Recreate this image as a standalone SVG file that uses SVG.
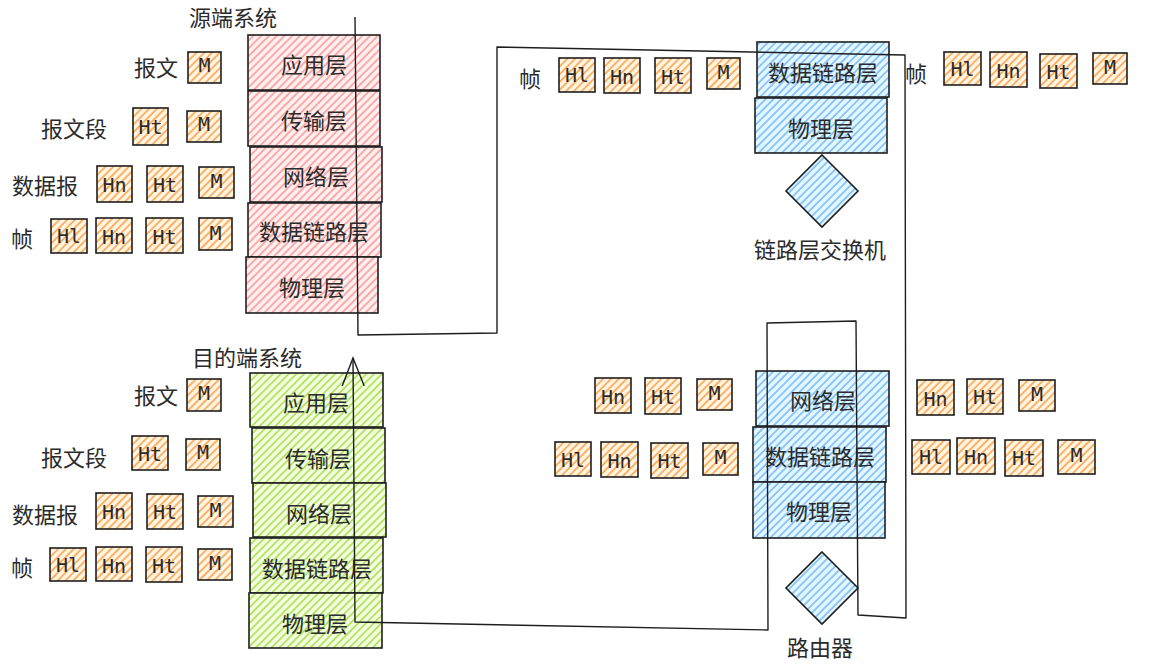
<svg xmlns="http://www.w3.org/2000/svg" width="1150" height="666" viewBox="0 0 1150 666">
<style>
.t{font-family:"Noto Sans CJK SC","Noto Sans",sans-serif;font-size:22px;fill:#2b2b2b;text-anchor:middle;dominant-baseline:central}
.pt{font-family:"DejaVu Sans Mono","Liberation Mono",monospace;font-size:20px;fill:#2b2b2b;text-anchor:middle;dominant-baseline:central}
.pk{fill:url(#hO);stroke:#1e1e1e;stroke-width:1.6}
.lr{fill:url(#hR);stroke:#1e1e1e;stroke-width:1.6}
.lg{fill:url(#hG);stroke:#1e1e1e;stroke-width:1.6}
.lb{fill:url(#hB);stroke:#1e1e1e;stroke-width:1.6}
.c{fill:none;stroke:#1e1e1e;stroke-width:1.4;stroke-linejoin:round}
</style>
<defs>
<pattern id="hO" patternUnits="userSpaceOnUse" width="5.5" height="5.5" patternTransform="rotate(45)"><rect width="5.5" height="5.5" fill="#fff4e6"/><line x1="1" y1="0" x2="1" y2="5.5" stroke="#ffa94d" stroke-width="1.7"/></pattern>
<pattern id="hR" patternUnits="userSpaceOnUse" width="5.5" height="5.5" patternTransform="rotate(45)"><rect width="5.5" height="5.5" fill="#fff0f0"/><line x1="1" y1="0" x2="1" y2="5.5" stroke="#ff9a9a" stroke-width="1.6"/></pattern>
<pattern id="hG" patternUnits="userSpaceOnUse" width="5.5" height="5.5" patternTransform="rotate(45)"><rect width="5.5" height="5.5" fill="#f4fce3"/><line x1="1" y1="0" x2="1" y2="5.5" stroke="#a9e34b" stroke-width="1.6"/></pattern>
<pattern id="hB" patternUnits="userSpaceOnUse" width="5.5" height="5.5" patternTransform="rotate(45)"><rect width="5.5" height="5.5" fill="#e7f5ff"/><line x1="1" y1="0" x2="1" y2="5.5" stroke="#74c0fc" stroke-width="1.6"/></pattern>
<marker id="arr" markerWidth="30" markerHeight="30" refX="0" refY="0" viewBox="-28 -14 30 28" orient="auto" markerUnits="userSpaceOnUse"><path d="M-28,-11 L0,0 L-28,11" fill="none" stroke="#1e1e1e" stroke-width="1.4"/></marker>
</defs>
<rect width="1150" height="666" fill="#ffffff"/>

<!-- source system -->
<g id="src-title"><text class="t" x="233" y="16">源端系统</text></g>
<g id="src-app"><rect class="lr" x="248" y="35" width="132" height="55"/><text class="t" x="314" y="63">应用层</text></g>
<g id="src-trans"><rect class="lr" x="248" y="91" width="132" height="55"/><text class="t" x="314" y="119">传输层</text></g>
<g id="src-net"><rect class="lr" x="250" y="147" width="132" height="55"/><text class="t" x="316" y="175">网络层</text></g>
<g id="src-link"><rect class="lr" x="248" y="203" width="133" height="54"/><text class="t" x="314" y="230">数据链路层</text></g>
<g id="src-phy"><rect class="lr" x="246" y="257" width="132" height="56"/><text class="t" x="312" y="286">物理层</text></g>

<g id="src-lbl-msg"><text class="t" x="156" y="66">报文</text></g>
<g id="src-lbl-seg"><text class="t" x="74" y="127">报文段</text></g>
<g id="src-lbl-dg"><text class="t" x="45" y="184">数据报</text></g>
<g id="src-lbl-fr"><text class="t" x="22" y="237">帧</text></g>

<g id="src-msg-M" transform="translate(188,52)"><rect class="pk" width="33" height="31"/><text class="pt" x="16.5" y="13">M</text></g>
<g id="src-seg-Ht" transform="translate(133,108)"><rect class="pk" width="35" height="37"/><text class="pt" x="17.5" y="19">Ht</text></g>
<g id="src-seg-M" transform="translate(187,111)"><rect class="pk" width="34" height="31"/><text class="pt" x="17" y="13">M</text></g>
<g id="src-dg-Hn" transform="translate(97,166)"><rect class="pk" width="35" height="36"/><text class="pt" x="17.5" y="19">Hn</text></g>
<g id="src-dg-Ht" transform="translate(147,166)"><rect class="pk" width="36" height="36"/><text class="pt" x="18" y="19">Ht</text></g>
<g id="src-dg-M" transform="translate(199,167)"><rect class="pk" width="35" height="31"/><text class="pt" x="17.5" y="14">M</text></g>
<g id="src-fr-Hl" transform="translate(51,219)"><rect class="pk" width="36" height="34"/><text class="pt" x="18" y="17">Hl</text></g>
<g id="src-fr-Hn" transform="translate(96,218)"><rect class="pk" width="36" height="35"/><text class="pt" x="18" y="19">Hn</text></g>
<g id="src-fr-Ht" transform="translate(146,218)"><rect class="pk" width="37" height="35"/><text class="pt" x="18.5" y="19">Ht</text></g>
<g id="src-fr-M" transform="translate(199,218)"><rect class="pk" width="33" height="32"/><text class="pt" x="16.5" y="15">M</text></g>

<!-- destination system -->
<g id="dst-title"><text class="t" x="247" y="356">目的端系统</text></g>
<g id="dst-app"><rect class="lg" x="250" y="373" width="133" height="54"/><text class="t" x="316" y="401">应用层</text></g>
<g id="dst-trans"><rect class="lg" x="252" y="428" width="133" height="55"/><text class="t" x="318" y="457">传输层</text></g>
<g id="dst-net"><rect class="lg" x="253" y="483" width="133" height="54"/><text class="t" x="319" y="512">网络层</text></g>
<g id="dst-link"><rect class="lg" x="250" y="538" width="133" height="55"/><text class="t" x="317" y="567">数据链路层</text></g>
<g id="dst-phy"><rect class="lg" x="249" y="593" width="133" height="55"/><text class="t" x="315" y="622">物理层</text></g>

<g id="dst-lbl-msg"><text class="t" x="156" y="394">报文</text></g>
<g id="dst-lbl-seg"><text class="t" x="74" y="456">报文段</text></g>
<g id="dst-lbl-dg"><text class="t" x="45" y="513">数据报</text></g>
<g id="dst-lbl-fr"><text class="t" x="22" y="566">帧</text></g>

<g id="dst-msg-M" transform="translate(187,379)"><rect class="pk" width="34" height="32"/><text class="pt" x="17" y="14">M</text></g>
<g id="dst-seg-Ht" transform="translate(132,436)"><rect class="pk" width="36" height="34"/><text class="pt" x="18" y="18">Ht</text></g>
<g id="dst-seg-M" transform="translate(186,439)"><rect class="pk" width="34" height="31"/><text class="pt" x="17" y="13">M</text></g>
<g id="dst-dg-Hn" transform="translate(96,493)"><rect class="pk" width="36" height="36"/><text class="pt" x="18" y="19">Hn</text></g>
<g id="dst-dg-Ht" transform="translate(147,494)"><rect class="pk" width="36" height="35"/><text class="pt" x="18" y="18">Ht</text></g>
<g id="dst-dg-M" transform="translate(198,496)"><rect class="pk" width="35" height="31"/><text class="pt" x="17.5" y="14">M</text></g>
<g id="dst-fr-Hl" transform="translate(50,548)"><rect class="pk" width="36" height="33"/><text class="pt" x="18" y="17">Hl</text></g>
<g id="dst-fr-Hn" transform="translate(96,547)"><rect class="pk" width="36" height="34"/><text class="pt" x="18" y="19">Hn</text></g>
<g id="dst-fr-Ht" transform="translate(146,547)"><rect class="pk" width="36" height="35"/><text class="pt" x="18" y="19">Ht</text></g>
<g id="dst-fr-M" transform="translate(198,549)"><rect class="pk" width="34" height="31"/><text class="pt" x="17" y="14">M</text></g>

<!-- link-layer switch -->
<g id="sw-link"><rect class="lb" x="757" y="42" width="132" height="55"/><text class="t" x="823" y="71">数据链路层</text></g>
<g id="sw-phy"><rect class="lb" x="755" y="98" width="132" height="55"/><text class="t" x="821" y="127">物理层</text></g>
<g id="sw-dev"><polygon class="lb" points="822,155 858,191 822,227 786,191"/></g>
<g id="sw-label"><text class="t" x="820" y="248">链路层交换机</text></g>

<g id="sw-lbl-fr-l"><text class="t" x="530" y="77">帧</text></g>
<g id="sw-l-Hl" transform="translate(559,58)"><rect class="pk" width="36" height="34"/><text class="pt" x="18" y="17">Hl</text></g>
<g id="sw-l-Hn" transform="translate(604,58)"><rect class="pk" width="36" height="35"/><text class="pt" x="18" y="19">Hn</text></g>
<g id="sw-l-Ht" transform="translate(655,58)"><rect class="pk" width="36" height="35"/><text class="pt" x="18" y="19">Ht</text></g>
<g id="sw-l-M" transform="translate(707,58)"><rect class="pk" width="33" height="31"/><text class="pt" x="16.5" y="14">M</text></g>

<g id="sw-lbl-fr-r"><text class="t" x="916" y="72">帧</text></g>
<g id="sw-r-Hl" transform="translate(944,52)"><rect class="pk" width="37" height="33"/><text class="pt" x="18.5" y="17">Hl</text></g>
<g id="sw-r-Hn" transform="translate(990,52)"><rect class="pk" width="37" height="35"/><text class="pt" x="18.5" y="19">Hn</text></g>
<g id="sw-r-Ht" transform="translate(1040,54)"><rect class="pk" width="37" height="34"/><text class="pt" x="18.5" y="18">Ht</text></g>
<g id="sw-r-M" transform="translate(1093,53)"><rect class="pk" width="34" height="31"/><text class="pt" x="17" y="14">M</text></g>

<!-- router -->
<g id="rt-net"><rect class="lb" x="756" y="371" width="133" height="55"/><text class="t" x="823" y="399">网络层</text></g>
<g id="rt-link"><rect class="lb" x="753" y="427" width="133" height="55"/><text class="t" x="820" y="455">数据链路层</text></g>
<g id="rt-phy"><rect class="lb" x="753" y="482" width="132" height="56"/><text class="t" x="819" y="510">物理层</text></g>
<g id="rt-dev"><polygon class="lb" points="822,552 858,588 822,624 786,588"/></g>
<g id="rt-label"><text class="t" x="820" y="646">路由器</text></g>

<g id="rt-l1-Hn" transform="translate(595,378)"><rect class="pk" width="36" height="35"/><text class="pt" x="18" y="19">Hn</text></g>
<g id="rt-l1-Ht" transform="translate(645,378)"><rect class="pk" width="36" height="36"/><text class="pt" x="18" y="19">Ht</text></g>
<g id="rt-l1-M" transform="translate(697,379)"><rect class="pk" width="35" height="31"/><text class="pt" x="17.5" y="14">M</text></g>
<g id="rt-l2-Hl" transform="translate(555,442)"><rect class="pk" width="36" height="34"/><text class="pt" x="18" y="18">Hl</text></g>
<g id="rt-l2-Hn" transform="translate(601,442)"><rect class="pk" width="37" height="35"/><text class="pt" x="18.5" y="19">Hn</text></g>
<g id="rt-l2-Ht" transform="translate(651,443)"><rect class="pk" width="37" height="35"/><text class="pt" x="18.5" y="18">Ht</text></g>
<g id="rt-l2-M" transform="translate(703,443)"><rect class="pk" width="35" height="32"/><text class="pt" x="17.5" y="14">M</text></g>

<g id="rt-r1-Hn" transform="translate(917,380)"><rect class="pk" width="37" height="35"/><text class="pt" x="18.5" y="19">Hn</text></g>
<g id="rt-r1-Ht" transform="translate(967,379)"><rect class="pk" width="36" height="35"/><text class="pt" x="18" y="18">Ht</text></g>
<g id="rt-r1-M" transform="translate(1019,380)"><rect class="pk" width="36" height="31"/><text class="pt" x="18" y="14">M</text></g>
<g id="rt-r2-Hl" transform="translate(912,440)"><rect class="pk" width="38" height="34"/><text class="pt" x="19" y="17">Hl</text></g>
<g id="rt-r2-Hn" transform="translate(957,438)"><rect class="pk" width="38" height="36"/><text class="pt" x="19" y="19">Hn</text></g>
<g id="rt-r2-Ht" transform="translate(1005,440)"><rect class="pk" width="38" height="36"/><text class="pt" x="19" y="18">Ht</text></g>
<g id="rt-r2-M" transform="translate(1058,440)"><rect class="pk" width="37" height="34"/><text class="pt" x="18.5" y="15">M</text></g>

<!-- connectors -->
<g id="connectors">
<polyline class="c" marker-end="url(#arr)" points="355,17 358,335 497,333 497,47 905,55 906,618 858,615 856,321 767,323 768,630 355,622 353,358"/>
</g>
</svg>
